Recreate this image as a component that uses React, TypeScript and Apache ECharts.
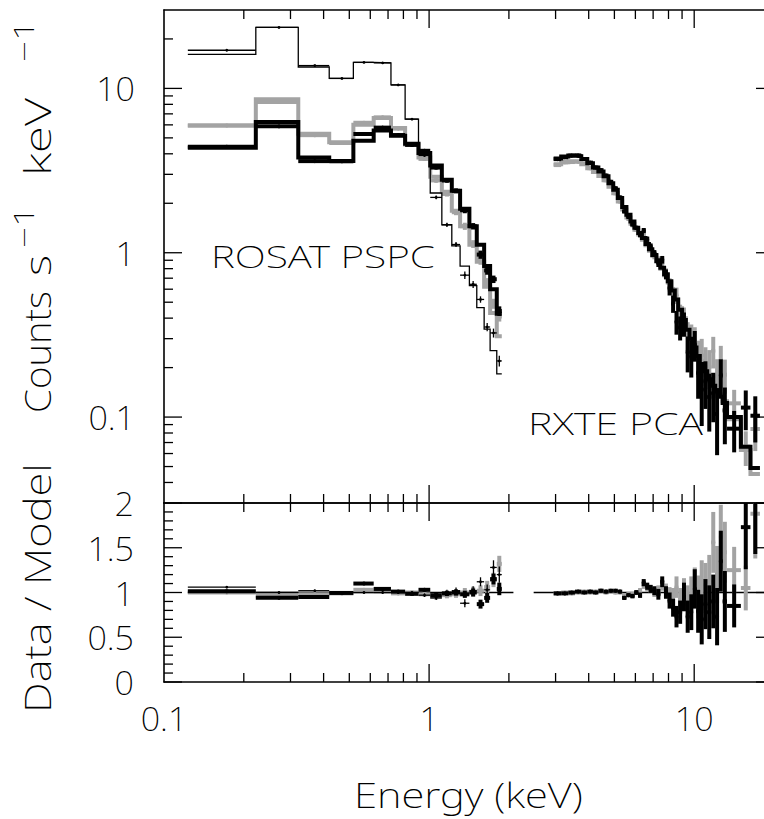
import React, { useEffect, useRef } from 'react';
import * as echarts from 'echarts';

// ---------------- axes ----------------
const X_MIN = 0.1;
const X_MAX = 20;
const Y_MIN = 0.03;
const Y_MAX = 30;
const R_MIN = 0;
const R_MAX = 2;
const X_TICK_LABELS = ['0.1', '1', '10'];
const Y_TICK_LABELS = ['0.1', '1', '10'];
const R_TICK_LABELS = ['0', '0.5', '1', '1.5', '2'];

// ---------------- ROSAT PSPC (3 observations) ----------------
const PSPC_EDGES = [0.123, 0.222, 0.321, 0.42, 0.518, 0.618, 0.718, 0.812, 0.912, 1.01, 1.117, 1.218, 1.309, 1.419, 1.513, 1.613, 1.699, 1.8, 1.88];

// thin black
const PSPC_A_MODEL = [16.1, 23.5, 13.5, 11.5, 14.4, 14.3, 10.5, 6.5, 4.03, 2.31, 1.48, 1.1, 0.83, 0.63, 0.464, 0.343, 0.254, 0.183];
const PSPC_A_RATIO = [1.06, 1.0, 1.02, 1.0, 1.0, 1.0, 1.0, 1.0, 0.97, 0.94, 1.0, 1.02, 0.88, 1.02, 1.12, 1.03, 1.28, 1.2];
const PSPC_A_ERR = [0.012, 0.01, 0.012, 0.012, 0.012, 0.012, 0.012, 0.015, 0.02, 0.025, 0.03, 0.035, 0.045, 0.05, 0.05, 0.06, 0.08, 0.09];

// thick grey
const PSPC_B_MODEL = [5.95, 8.6, 5.3, 4.7, 6.0, 6.6, 5.75, 4.55, 3.8, 2.9, 2.35, 1.8, 1.45, 1.12, 0.88, 0.62, 0.43, 0.31];
const PSPC_B_RATIO = [1.0, 0.96, 0.98, 0.99, 1.03, 1.01, 0.99, 1.0, 0.98, 0.95, 0.97, 0.98, 1.0, 1.01, 1.02, 1.06, 1.14, 1.32];
const PSPC_B_ERR = [0.015, 0.012, 0.015, 0.015, 0.015, 0.015, 0.015, 0.02, 0.025, 0.03, 0.035, 0.04, 0.05, 0.055, 0.06, 0.07, 0.08, 0.09];

// thick black
const PSPC_C_MODEL = [4.35, 6.25, 3.8, 3.62, 4.8, 5.55, 5.15, 4.6, 4.05, 3.4, 2.78, 2.38, 1.85, 1.45, 1.12, 0.83, 0.6, 0.425];
const PSPC_C_RATIO = [1.015, 0.94, 0.95, 0.995, 1.1, 1.04, 1.01, 0.985, 1.03, 0.97, 0.99, 1.0, 0.98, 1.0, 0.87, 0.94, 1.15, 1.04];
const PSPC_C_ERR = [0.015, 0.012, 0.015, 0.015, 0.015, 0.015, 0.015, 0.02, 0.02, 0.025, 0.03, 0.035, 0.04, 0.045, 0.05, 0.055, 0.06, 0.07];

// ---------------- RXTE PCA (2 observations) ----------------
const PCA_EDGES = [2.95, 3.15, 3.35, 3.55, 3.75, 3.95, 4.15, 4.35, 4.55, 4.75, 4.95, 5.15, 5.35, 5.55, 5.75, 5.95, 6.15, 6.35, 6.55, 6.75, 6.95, 7.2, 7.45, 7.7, 7.95, 8.2, 8.45, 8.7, 9.0, 9.3, 9.6, 9.9, 10.2, 10.5, 10.85, 11.2, 11.6, 12.0, 12.4, 12.8, 13.3, 15.0, 16.3, 17.7];

// thick black
const PCA_K_MODEL = [3.75, 3.85, 3.9, 3.87, 3.72, 3.5, 3.3, 3.12, 2.92, 2.65, 2.42, 2.15, 1.9, 1.7, 1.55, 1.42, 1.32, 1.23, 1.13, 1.05, 0.97, 0.89, 0.81, 0.74, 0.67, 0.59, 0.52, 0.45, 0.39, 0.34, 0.3, 0.265, 0.235, 0.21, 0.19, 0.17, 0.155, 0.143, 0.133, 0.122, 0.1, 0.066, 0.049];
const PCA_K_RATIO = [0.99, 0.99, 1.0, 1.01, 1.0, 1.01, 1.0, 1.02, 1.01, 1.02, 1.02, 1.01, 0.94, 0.97, 0.96, 1.0, 0.97, 1.11, 1.07, 1.04, 1.02, 0.98, 1.12, 1.0, 0.91, 0.83, 0.73, 0.78, 0.95, 0.73, 0.78, 1.04, 0.79, 0.7, 0.87, 0.78, 0.9, 0.73, 1.35, 0.9, 0.85, 1.73, 2.08];
const PCA_K_ERR = [0.012, 0.012, 0.012, 0.012, 0.012, 0.012, 0.012, 0.012, 0.012, 0.012, 0.012, 0.012, 0.02, 0.02, 0.025, 0.025, 0.03, 0.04, 0.04, 0.045, 0.05, 0.06, 0.06, 0.07, 0.09, 0.1, 0.12, 0.13, 0.16, 0.18, 0.2, 0.22, 0.24, 0.28, 0.28, 0.3, 0.3, 0.32, 0.34, 0.34, 0.24, 0.47, 0.65];

// thick grey
const PCA_G_MODEL = [3.45, 3.55, 3.6, 3.58, 3.46, 3.27, 3.1, 2.93, 2.76, 2.52, 2.3, 2.05, 1.83, 1.64, 1.5, 1.38, 1.29, 1.2, 1.11, 1.03, 0.96, 0.88, 0.8, 0.73, 0.66, 0.59, 0.52, 0.46, 0.4, 0.35, 0.31, 0.275, 0.245, 0.22, 0.2, 0.18, 0.162, 0.148, 0.137, 0.125, 0.097, 0.063, 0.045];
const PCA_G_RATIO = [0.99, 1.0, 0.99, 1.0, 1.01, 1.0, 1.01, 1.02, 1.0, 1.01, 1.0, 1.0, 0.97, 0.98, 0.98, 1.0, 1.02, 1.08, 1.05, 1.04, 1.0, 1.02, 1.08, 1.03, 0.97, 0.95, 1.06, 0.92, 1.0, 0.9, 0.98, 1.06, 0.95, 1.08, 1.05, 1.12, 1.56, 1.2, 1.62, 1.45, 1.25, 1.05, 1.88];
const PCA_G_ERR = [0.012, 0.012, 0.012, 0.012, 0.012, 0.012, 0.012, 0.012, 0.012, 0.012, 0.012, 0.012, 0.02, 0.02, 0.025, 0.025, 0.03, 0.04, 0.04, 0.045, 0.05, 0.06, 0.06, 0.07, 0.09, 0.1, 0.12, 0.13, 0.16, 0.18, 0.2, 0.22, 0.24, 0.28, 0.28, 0.3, 0.34, 0.32, 0.36, 0.34, 0.26, 0.25, 0.5];

// model ratio = 1 line ranges (keV)
const UNITY_RANGES = [[0.123, 2.08], [2.48, 20]];

// ---------------- styling ----------------
const FAMILY = 'Noto Sans';
const FONT = "'Noto Sans'";
const FW = 200;
const BLACK = '#000000';
const GREY = '#a3a3a3';
const THIN = 1.3;
const THICK = 4;

const GRID_LEFT = 164;
const GRID_W = 610;
const TOP_Y = 10;
const TOP_H = 493;
const RAT_H = 179;

function stepData(edges: number[], vals: number[]) {
  const d = vals.map((v, i) => [edges[i], v]);
  d.push([edges[edges.length - 1], vals[vals.length - 1]]);
  return d;
}

function crossData(edges: number[], model: number[], ratio: number[], err: number[], panel: 'top' | 'ratio') {
  return model.map((m, i) => {
    const lo = edges[i];
    const hi = edges[i + 1];
    const xc = (lo + hi) / 2;
    if (panel === 'top') {
      return [xc, m * ratio[i], lo, hi, m * (ratio[i] - err[i]), m * (ratio[i] + err[i])];
    }
    return [xc, ratio[i], lo, hi, ratio[i] - err[i], ratio[i] + err[i]];
  });
}

function crossRender(color: string, width: number, dot: number) {
  return (params: any, api: any) => {
    const cs = params.coordSys;
    const x = api.value(0);
    const y = api.value(1);
    const c = api.coord([x, y]);
    const l = api.coord([api.value(2), y]);
    const r = api.coord([api.value(3), y]);
    const b = api.coord([x, api.value(4)]);
    const t = api.coord([x, api.value(5)]);
    const clampY = (v: number) => Math.max(cs.y, Math.min(cs.y + cs.height, v));
    const children: any[] = [];
    const style = { stroke: color, lineWidth: width, lineCap: 'butt' };
    if (c[1] >= cs.y && c[1] <= cs.y + cs.height) {
      children.push({ type: 'line', shape: { x1: l[0], y1: c[1], x2: r[0], y2: c[1] }, style });
      if (dot > 0) children.push({ type: 'circle', shape: { cx: c[0], cy: c[1], r: dot }, style: { fill: color } });
    }
    const y1 = clampY(t[1]);
    const y2 = clampY(b[1]);
    if (y2 > y1) children.push({ type: 'line', shape: { x1: c[0], y1, x2: c[0], y2 }, style });
    return { type: 'group', children };
  };
}

function logTicks(min: number, max: number) {
  const out: number[][] = [];
  for (let e = Math.floor(Math.log10(min)); e <= Math.ceil(Math.log10(max)); e++) {
    for (let k = 1; k <= 9; k++) {
      const v = k * Math.pow(10, e);
      if (v > min * 1.0001 && v < max * 0.9999) out.push([v, k === 1 ? 1 : 0]);
    }
  }
  return out;
}

function linTicks(min: number, max: number, minor: number, major: number) {
  const out: number[][] = [];
  const n = Math.round((max - min) / minor);
  for (let i = 0; i <= n; i++) {
    const v = min + i * minor;
    const isMajor = Math.abs(v / major - Math.round(v / major)) < 1e-6 ? 1 : 0;
    out.push([v, isMajor]);
  }
  return out;
}

function tickRender(params: any, api: any) {
  const cs = params.coordSys;
  const kind = api.value(2);
  const len = api.value(3) ? 18 : 9;
  const style = { stroke: BLACK, lineWidth: 1.3 };
  if (kind === 0) {
    const px = api.coord([api.value(0), api.value(1)])[0];
    return {
      type: 'group',
      children: [
        { type: 'line', shape: { x1: px, y1: cs.y, x2: px, y2: cs.y + len }, style },
        { type: 'line', shape: { x1: px, y1: cs.y + cs.height, x2: px, y2: cs.y + cs.height - len }, style },
      ],
    };
  }
  const py = api.coord([api.value(0), api.value(1)])[1];
  return {
    type: 'group',
    children: [
      { type: 'line', shape: { x1: cs.x, y1: py, x2: cs.x + len, y2: py }, style },
      { type: 'line', shape: { x1: cs.x + cs.width, y1: py, x2: cs.x + cs.width - len, y2: py }, style },
    ],
  };
}

function labelFormatter(labels: string[]) {
  return (v: number) => {
    const hit = labels.find((s) => {
      const n = parseFloat(s);
      return n === 0 ? Math.abs(v) < 1e-9 : Math.abs(v / n - 1) < 1e-6;
    });
    return hit === undefined ? '' : hit;
  };
}

let measureCtx: CanvasRenderingContext2D | null = null;
function measure(text: string, size: number) {
  if (!measureCtx) measureCtx = document.createElement('canvas').getContext('2d');
  if (!measureCtx) return text.length * size * 0.55;
  measureCtx.font = `${FW} ${size}px ${FONT}`;
  return measureCtx.measureText(text).width;
}

function textStyle(text: string, size: number) {
  return {
    text, fontFamily: FAMILY, fontWeight: FW, fontSize: size, fill: BLACK,
    align: 'left', verticalAlign: 'middle', textAlign: 'left', textVerticalAlign: 'middle',
  };
}

// horizontal label stretched to a target length, centred at (cx, cy)
function hLabel(text: string, cx: number, cy: number, targetLen: number, size: number) {
  const w = measure(text, size);
  const s = targetLen / w;
  return { type: 'text', x: cx - targetLen / 2, y: cy, scaleX: s, z: 20, style: textStyle(text, size) };
}

// vertical (reading upwards) label piece that runs from screen y "from" up to screen y "to"
function vPiece(text: string, cx: number, from: number, to: number, size: number) {
  const w = measure(text, size);
  return { type: 'text', x: cx, y: from, rotation: Math.PI / 2, scaleX: (from - to) / w, z: 20, style: textStyle(text, size) };
}

function buildOption() {
  const axisLine = { show: true, onZero: false, lineStyle: { color: BLACK, width: 1.6 } };
  const labelStyle = { fontFamily: FAMILY, fontWeight: FW, fontSize: 34, color: BLACK };

  const xTicks = logTicks(X_MIN, X_MAX).map(([v, m]) => [v, 1, 0, m]);
  const yTopTicks = logTicks(Y_MIN, Y_MAX).map(([v, m]) => [1, v, 1, m]);
  const rTicks = linTicks(R_MIN, R_MAX, 0.1, 0.5).map(([v, m]) => [1, v, 1, m]);

  const series: any[] = [];

  const addStep = (edges: number[], model: number[], color: string, width: number, z: number) => {
    series.push({
      type: 'line', xAxisIndex: 0, yAxisIndex: 0, step: 'end', data: stepData(edges, model),
      showSymbol: false, symbol: 'none', silent: true, z,
      lineStyle: { color, width, cap: 'butt', join: 'miter' },
    });
  };
  const addCross = (data: any[], gi: number, color: string, width: number, dot: number, z: number) => {
    series.push({
      type: 'custom', xAxisIndex: gi === 0 ? 0 : 2, yAxisIndex: gi === 0 ? 0 : 2,
      data, encode: { x: 0, y: 1 }, renderItem: crossRender(color, width, dot), silent: true, z, clip: true,
    });
  };

  addStep(PSPC_EDGES, PSPC_B_MODEL, GREY, THICK, 2);
  addCross(crossData(PSPC_EDGES, PSPC_B_MODEL, PSPC_B_RATIO, PSPC_B_ERR, 'top'), 0, GREY, THICK, 2, 2);
  addStep(PCA_EDGES, PCA_G_MODEL, GREY, THICK, 2);
  addCross(crossData(PCA_EDGES, PCA_G_MODEL, PCA_G_RATIO, PCA_G_ERR, 'top'), 0, GREY, THICK, 2, 2);

  addStep(PSPC_EDGES, PSPC_C_MODEL, BLACK, THICK, 3);
  addCross(crossData(PSPC_EDGES, PSPC_C_MODEL, PSPC_C_RATIO, PSPC_C_ERR, 'top'), 0, BLACK, THICK, 2, 3);
  addStep(PCA_EDGES, PCA_K_MODEL, BLACK, THICK, 3);
  addCross(crossData(PCA_EDGES, PCA_K_MODEL, PCA_K_RATIO, PCA_K_ERR, 'top'), 0, BLACK, THICK, 2, 3);

  addStep(PSPC_EDGES, PSPC_A_MODEL, BLACK, THIN, 4);
  addCross(crossData(PSPC_EDGES, PSPC_A_MODEL, PSPC_A_RATIO, PSPC_A_ERR, 'top'), 0, BLACK, THIN, 1.4, 4);

  UNITY_RANGES.forEach((r) => {
    series.push({
      type: 'line', xAxisIndex: 2, yAxisIndex: 2, data: [[r[0], 1], [r[1], 1]],
      showSymbol: false, symbol: 'none', silent: true, z: 1,
      lineStyle: { color: BLACK, width: THIN },
    });
  });
  addCross(crossData(PSPC_EDGES, PSPC_B_MODEL, PSPC_B_RATIO, PSPC_B_ERR, 'ratio'), 1, GREY, THICK, 2, 2);
  addCross(crossData(PCA_EDGES, PCA_G_MODEL, PCA_G_RATIO, PCA_G_ERR, 'ratio'), 1, GREY, THICK, 2, 2);
  addCross(crossData(PSPC_EDGES, PSPC_C_MODEL, PSPC_C_RATIO, PSPC_C_ERR, 'ratio'), 1, BLACK, THICK, 2, 3);
  addCross(crossData(PCA_EDGES, PCA_K_MODEL, PCA_K_RATIO, PCA_K_ERR, 'ratio'), 1, BLACK, THICK, 2, 3);
  addCross(crossData(PSPC_EDGES, PSPC_A_MODEL, PSPC_A_RATIO, PSPC_A_ERR, 'ratio'), 1, BLACK, THIN, 1.4, 4);

  series.push({ type: 'custom', xAxisIndex: 0, yAxisIndex: 0, data: [...xTicks, ...yTopTicks], encode: { x: 0, y: 1 }, renderItem: tickRender, silent: true, z: 10 });
  series.push({ type: 'custom', xAxisIndex: 2, yAxisIndex: 2, data: [...xTicks, ...rTicks], encode: { x: 0, y: 1 }, renderItem: tickRender, silent: true, z: 10 });

  const TITLE_X = 37;
  const SUP_X = 23;

  return {
    animation: false,
    backgroundColor: '#ffffff',
    grid: [
      { left: GRID_LEFT, top: TOP_Y, width: GRID_W, height: TOP_H, containLabel: false, outerBoundsMode: 'none' },
      { left: GRID_LEFT, top: TOP_Y + TOP_H, width: GRID_W, height: RAT_H, containLabel: false, outerBoundsMode: 'none' },
    ],
    xAxis: [
      { type: 'log', logBase: 10, gridIndex: 0, min: X_MIN, max: X_MAX, position: 'bottom', axisLine, axisTick: { show: false }, axisLabel: { show: false }, splitLine: { show: false } },
      { type: 'log', logBase: 10, gridIndex: 0, min: X_MIN, max: X_MAX, position: 'top', axisLine, axisTick: { show: false }, axisLabel: { show: false }, splitLine: { show: false } },
      {
        type: 'log', logBase: 10, gridIndex: 1, min: X_MIN, max: X_MAX, position: 'bottom', axisLine, axisTick: { show: false },
        axisLabel: { ...labelStyle, margin: 19, formatter: labelFormatter(X_TICK_LABELS) }, splitLine: { show: false },
      },
      { type: 'log', logBase: 10, gridIndex: 1, min: X_MIN, max: X_MAX, position: 'top', axisLine, axisTick: { show: false }, axisLabel: { show: false }, splitLine: { show: false } },
    ],
    yAxis: [
      {
        type: 'log', logBase: 10, gridIndex: 0, min: Y_MIN, max: Y_MAX, position: 'left', axisLine, axisTick: { show: false },
        axisLabel: { ...labelStyle, margin: 29, formatter: labelFormatter(Y_TICK_LABELS) }, splitLine: { show: false },
      },
      { type: 'log', logBase: 10, gridIndex: 0, min: Y_MIN, max: Y_MAX, position: 'right', axisLine, axisTick: { show: false }, axisLabel: { show: false }, splitLine: { show: false } },
      {
        type: 'value', gridIndex: 1, min: R_MIN, max: R_MAX, interval: 0.5, position: 'left', axisLine, axisTick: { show: false },
        axisLabel: { ...labelStyle, margin: 30, formatter: labelFormatter(R_TICK_LABELS) }, splitLine: { show: false },
      },
      { type: 'value', gridIndex: 1, min: R_MIN, max: R_MAX, interval: 0.5, position: 'right', axisLine, axisTick: { show: false }, axisLabel: { show: false }, splitLine: { show: false } },
    ],
    series,
    graphic: [
      hLabel('ROSAT PSPC', 323, 255.5, 224, 32),
      hLabel('RXTE PCA', 615.5, 422, 175, 32),
      hLabel('Energy (keV)', 468.5, 794, 229, 35),
      vPiece('Data / Model', TITLE_X, 713, 463, 36),
      vPiece('Counts', TITLE_X, 413, 291, 36),
      vPiece('s', TITLE_X, 276, 255, 36),
      vPiece('−1', SUP_X, 248, 206, 27),
      vPiece('keV', TITLE_X, 176, 98, 36),
      vPiece('−1', SUP_X, 62, 20, 27),
    ],
  };
}

export default function App() {
  const ref = useRef<HTMLDivElement>(null);
  useEffect(() => {
    if (!ref.current) return;
    const chart = echarts.init(ref.current, null, { renderer: 'svg' });
    chart.setOption(buildOption() as any);
    return () => chart.dispose();
  }, []);
  return (
    <div
      ref={ref}
      style={{ position: 'fixed', left: 0, top: 0, width: 764, height: 819, background: '#ffffff' }}
    />
  );
}
